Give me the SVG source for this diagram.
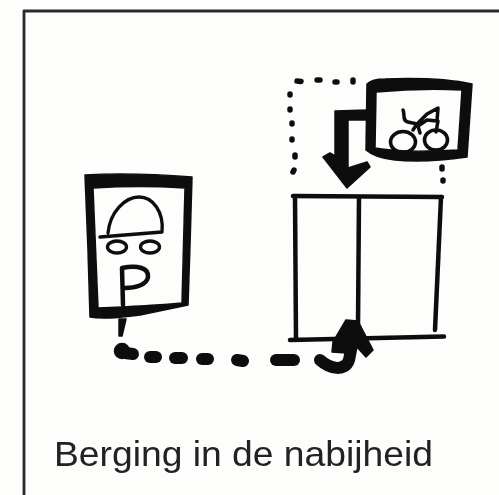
<svg xmlns="http://www.w3.org/2000/svg" width="499" height="495" viewBox="0 0 499 495">
<defs><filter id="scan" x="-5%" y="-5%" width="110%" height="110%"><feGaussianBlur stdDeviation="0.6"/></filter></defs>
<style>
.k{fill:none;stroke:#0c0c0c;stroke-linecap:round;stroke-linejoin:round}
.f{fill:#0c0c0c;stroke:#0c0c0c;stroke-width:1.500;stroke-linejoin:round}
.t{font-family:"Liberation Sans",Arial,sans-serif;font-size:35px;fill:#222}
</style>
<rect width="499" height="495" fill="#fdfdfc"/>
<g filter="url(#scan)">
<g id="frame"><path class="k" style="stroke:#2a2a2a;stroke-linecap:butt" stroke-width="2.800" d="M24 495V11H499"/></g>
<g id="connectors">
<path class="f" d="M119 319L126 319L122 336L119 336Z"/>
<circle class="f" cx="122" cy="351" r="7.500"/>
<g class="k" stroke-width="12"><path d="M125 353L133 354"/><path d="M150 357L156 357"/><path d="M175 358L182 358"/><path d="M202 359L208 359"/><path d="M237 360L243 361"/><path d="M276 360L294 360"/><path d="M320 360C330 369 345 372 349 360L352 345"/></g>
<path class="f" d="M346 320L358 321L373 350L366 357L356 346L347 353L332 352L333 342Z"/>
<path class="f" d="M335 111L368 110V120L348 120V168L367 162L370 167L347 188L323 157L330 153L335 156Z"/>
<g class="k" stroke-width="5.500"><path d="M297 81L301 81.500"/><path d="M317 80L320 80"/><path d="M335 82L337 82"/><path d="M353 80L353 82"/><path d="M290 94V95"/><path d="M290 109V110"/><path d="M292 123V124"/><path d="M292 139V140"/><path d="M295 155V157"/><path d="M294 170L293 172"/><path d="M442 167V169"/><path d="M443 180V181"/></g>
</g>
<g id="bike-node">
<path class="f" fill-rule="evenodd" d="M367 84Q372 79 385 79Q440 77 472 84L467 157Q425 163 395 160Q375 158 366 150ZM376 92L375 148Q400 153 458 150L462 90Q420 88 376 92Z"/>
<g class="k" stroke-width="3.500"><ellipse cx="403" cy="142" rx="12.500" ry="10.500"/><ellipse cx="436" cy="140" rx="11.500" ry="10"/><path d="M403 110C405 113 402 121 408 122L417 124L427 114L438 108L437 121L427 120L418 126L420 133M417 124L413 130M438 121L436 132"/></g>
</g>
<g id="parking-node">
<path class="f" fill-rule="evenodd" d="M85 175Q130 172 192 177L190 245L188 305L140 315Q105 320 90 317L88 250ZM93 188L98 308Q150 306 182 303L185 188Q140 185 93 188Z"/>
<g class="k" stroke-width="3.300"><path d="M108 233C110 212 125 197 139 197C153 197 164 212 162 232M100 237L162 232"/><ellipse cx="117" cy="247" rx="9.500" ry="6"/><ellipse cx="150" cy="247" rx="9.500" ry="6"/></g>
<path class="k" stroke-width="4.500" d="M123 305L122 268C138 265 149 268 148 277C147 285 135 288 125 288"/>
</g>
<g id="building-node">
<g class="k" stroke-width="4.500"><path d="M293 196L442 197"/><path d="M295 197L296 339"/><path d="M441 197L435 330"/><path d="M359 197L358 325"/><path d="M290 340L444 336.500"/></g>
</g>
<text class="t" x="54" y="466" textLength="379" lengthAdjust="spacingAndGlyphs">Berging in de nabijheid</text>
</g>
</svg>
